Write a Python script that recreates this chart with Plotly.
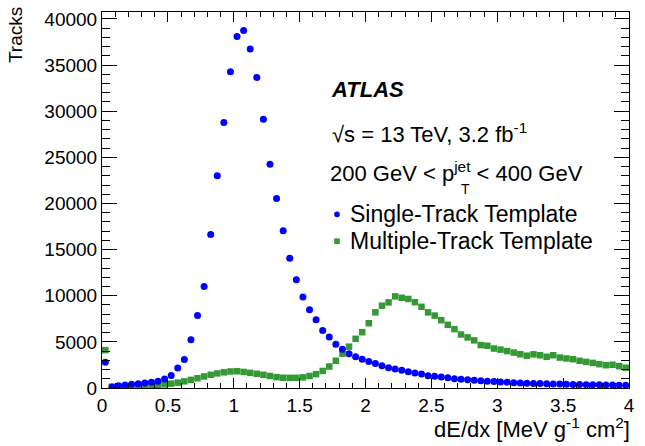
import plotly.graph_objects as go

# Histogram binning: 80 bins of width 0.05 from 0 to 4
BIN_WIDTH = 0.05
N_BINS = 80
bin_centers = [round(BIN_WIDTH * (i + 0.5), 4) for i in range(N_BINS)]

single_track = [
    2800, 100, 250, 330, 400, 460, 540, 620, 740, 980,
    1350, 2170, 3080, 5230, 7850, 11000, 16630, 23000, 28780, 34270,
    38100, 38750, 36740, 33660, 29120, 24250, 20540, 17040, 14070, 11720,
    9860, 8470, 7400, 6220, 5540, 4750, 4200, 3720, 3390, 3110,
    2880, 2650, 2420, 2200, 2060, 1920, 1760, 1620, 1530, 1340,
    1260, 1180, 1110, 1010, 940, 890, 850, 790, 740, 700,
    650, 620, 580, 550, 520, 500, 480, 460, 440, 420,
    400, 390, 380, 360, 350, 340, 330, 320, 310, 300,
]

multi_track = [
    4100, 130, 150, 170, 190, 210, 240, 270, 320, 390,
    470, 580, 720, 880, 1060, 1250, 1430, 1580, 1700, 1790,
    1820, 1740, 1640, 1540, 1430, 1300, 1180, 1110, 1100, 1100,
    1150, 1300, 1500, 1850, 2330, 2950, 3720, 4480, 5330, 6050,
    7020, 8200, 8920, 9280, 9930, 9780, 9650, 9300, 8800, 8200,
    7850, 7350, 6850, 6380, 5800, 5480, 5160, 4650, 4580, 4280,
    4160, 4000, 3840, 3660, 3500, 3650, 3550, 3380, 3550, 3300,
    3200, 3120, 2950, 2830, 2720, 2580, 2470, 2520, 2370, 2200,
]

series_names = ["Single-Track Template", "Multiple-Track Template"]
series_colors = ["#0000ff", "#339933"]

x_ticks = [0, 0.5, 1, 1.5, 2, 2.5, 3, 3.5, 4]
x_ticktext = ["0", "0.5", "1", "1.5", "2", "2.5", "3", "3.5", "4"]
y_ticks = [0, 5000, 10000, 15000, 20000, 25000, 30000, 35000, 40000]
y_ticktext = ["0", "5000", "10000", "15000", "20000", "25000", "30000", "35000", "40000"]

FONT = "Liberation Sans, Arial, Helvetica, sans-serif"
W, H = 645, 446
ML, MR, MT, MB = 102, 16, 9, 58
PW, PH = W - ML - MR, H - MT - MB


def px(xp):
    return (xp - ML) / PW


def py(yp):
    return (H - MB - yp) / PH


fig = go.Figure()
fig.add_trace(go.Scatter(
    x=bin_centers, y=multi_track, mode="markers", name=series_names[1],
    marker=dict(symbol="square", size=6.5, color=series_colors[1], line=dict(width=0)),
    showlegend=False,
))
fig.add_trace(go.Scatter(
    x=bin_centers, y=single_track, mode="markers", name=series_names[0],
    marker=dict(symbol="circle", size=7, color=series_colors[0], line=dict(width=0)),
    showlegend=False,
))

axis_common = dict(
    showline=True, linecolor="black", linewidth=1, mirror="ticks",
    ticks="inside", tickcolor="black", tickwidth=1,
    showgrid=False, zeroline=False,
    tickfont=dict(family=FONT, size=19, color="black"),
)

fig.update_xaxes(
    range=[0, 4.0], tickvals=x_ticks, ticktext=x_ticktext, ticklen=10,
    minor=dict(dtick=0.1, tick0=0, ticklen=5, ticks="inside", tickcolor="black", tickwidth=1),
    **axis_common,
)
fig.update_yaxes(
    range=[0, 40750], tickvals=y_ticks, ticktext=y_ticktext, ticklen=15,
    minor=dict(dtick=1000, tick0=0, ticklen=8, ticks="inside", tickcolor="black", tickwidth=1),
    **axis_common,
)

annotations = [
    dict(text="Tracks", x=px(15), y=py(2), xanchor="center", yanchor="top",
         textangle=-90, font=dict(size=19)),
    dict(text="dE/dx [MeV g<sup>-1</sup> cm<sup>2</sup>]", x=px(632), y=py(428),
         xanchor="right", yanchor="middle", font=dict(size=22)),
    dict(text="<b><i>ATLAS</i></b>", x=px(329), y=py(87), xanchor="left", yanchor="middle",
         font=dict(size=22)),
    dict(text="√s = 13 TeV, 3.2 fb<sup>-1</sup>", x=px(330), y=py(131), xanchor="left",
         yanchor="middle", font=dict(size=22)),
    dict(text="200 GeV < p<sup>jet</sup> < 400 GeV", x=px(328), y=py(170), xanchor="left",
         yanchor="middle", font=dict(size=22)),
    dict(text="T", x=px(459), y=py(187), xanchor="left", yanchor="middle",
         font=dict(size=14)),
]

# Legend drawn as text + symbol shapes for ROOT-like compact spacing
legend_rows_y = [213, 240]
shapes = []
sym_x, sym_r = 337, 2.8
for name, color, yrow, kind in zip(series_names, series_colors, legend_rows_y, ["circle", "rect"]):
    annotations.append(dict(text=name, x=px(348), y=py(yrow), xanchor="left",
                            yanchor="middle", font=dict(size=23)))
    shapes.append(dict(type=kind, xref="paper", yref="paper",
                       x0=px(sym_x - sym_r), x1=px(sym_x + sym_r),
                       y0=py(yrow + sym_r), y1=py(yrow - sym_r),
                       fillcolor=color, line=dict(width=0)))

for a in annotations:
    a.update(xref="paper", yref="paper", showarrow=False)
    a["font"].update(family=FONT, color="black")

fig.update_layout(
    width=W, height=H,
    margin=dict(l=ML, r=MR, t=MT, b=MB, pad=0),
    paper_bgcolor="white", plot_bgcolor="white",
    font=dict(family=FONT, color="black"),
    annotations=annotations,
    shapes=shapes,
    showlegend=False,
)

fig.write_html("out.html")
